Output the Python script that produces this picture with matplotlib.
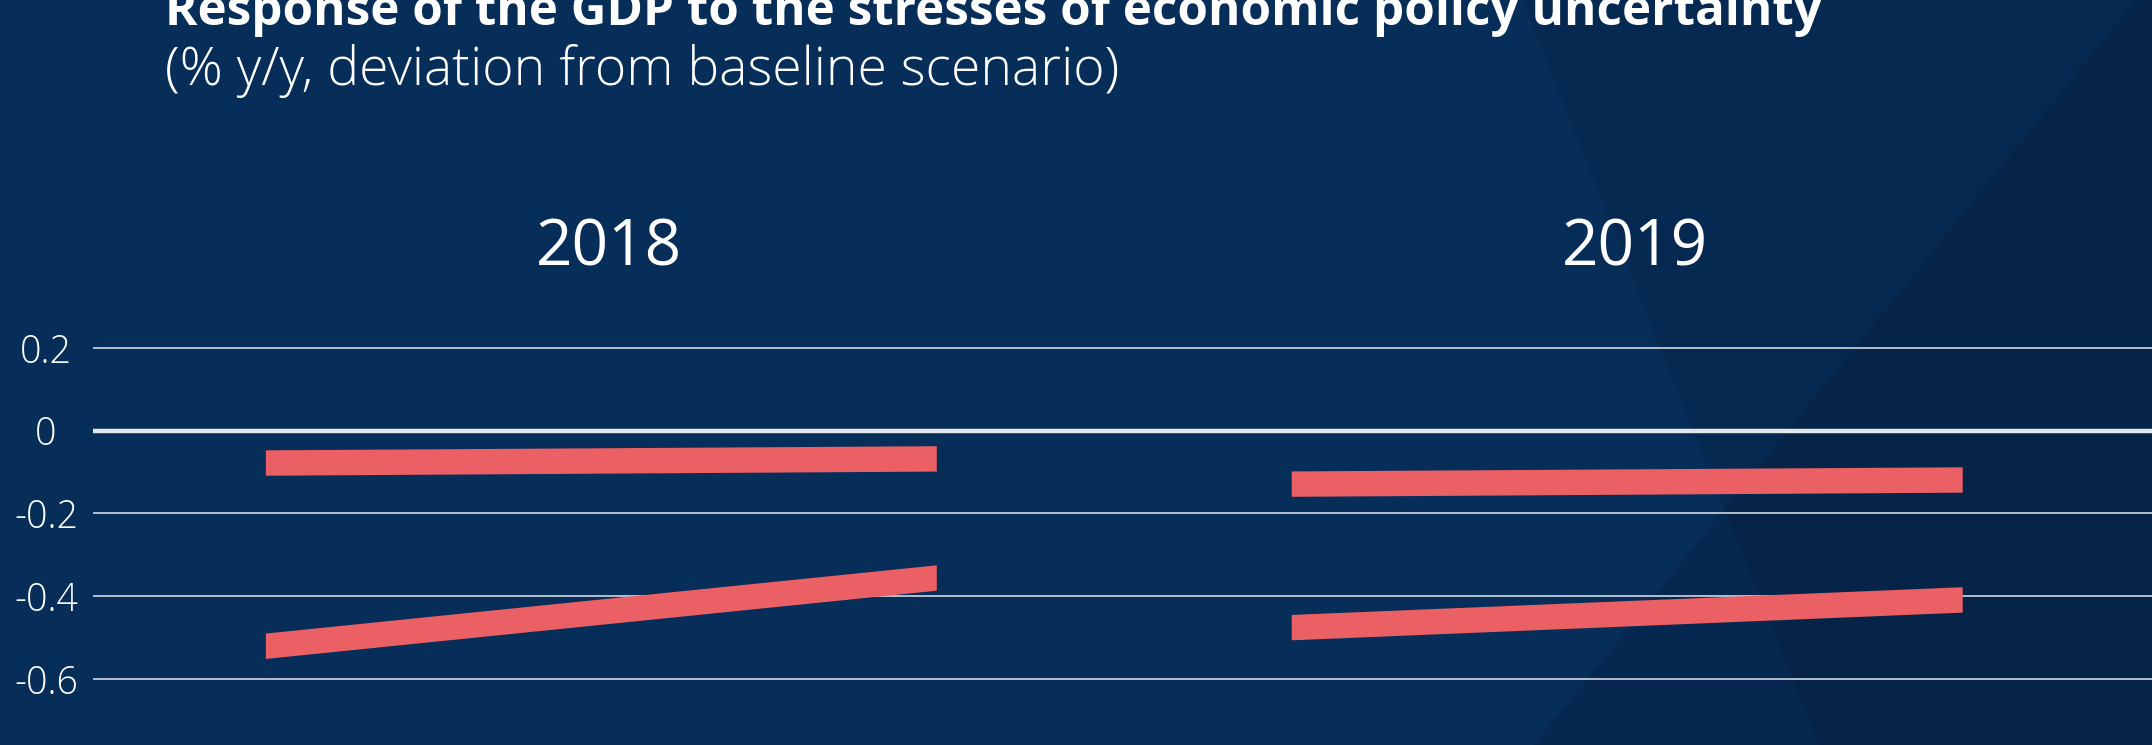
import numpy as np
import matplotlib.pyplot as plt
from matplotlib.patches import Polygon

plt.rcParams['font.family'] = ['Open Sans', 'DejaVu Sans']

# data
years = ['2018', '2019']
upper_start = [-0.077, -0.128]
upper_end = [-0.067, -0.118]
lower_start = [-0.520, -0.475]
lower_end = [-0.355, -0.408]
y_ticks = [0.2, 0, -0.2, -0.4, -0.6]
y_tick_labels = ['0.2', '0', '-0.2', '-0.4', '-0.6']

title = 'Response of the GDP to the stresses of economic policy uncertainty'
subtitle = '(% y/y, deviation from baseline scenario)'

bg = '#072D59'
red = '#EA6064'
W, H = 2152, 745

fig = plt.figure(figsize=(W / 100, H / 100), dpi=100)
fig.patch.set_facecolor(bg)

# decorative background triangles
bga = fig.add_axes([0, 0, 1, 1], zorder=0)
bga.set_xlim(0, W)
bga.set_ylim(H, 0)
bga.axis('off')
bga.add_patch(Polygon([(1522, 0), (W, 0), (W, H), (1819, H)],
                      closed=True, facecolor='#000814', alpha=0.10, lw=0))
bga.add_patch(Polygon([(2136, 0), (W, 0), (W, H), (1534, H)],
                      closed=True, facecolor='#000814', alpha=0.14, lw=0))

ax = fig.add_axes([93 / W, 0, 1 - 93 / W, 445 / H], zorder=1)
ax.set_facecolor('none')
ax.set_xlim(-0.495, 1.512)
ax.set_ylim(-0.760, 0.316)
for s in ax.spines.values():
    s.set_visible(False)

for t in y_ticks:
    if t == 0:
        ax.axhline(t, color='#e4e6ea', lw=3.2, zorder=2)
    else:
        ax.axhline(t, color='#c3cad4', lw=1.3, zorder=2)

half = 0.327
band = 0.0307
for i, yr in enumerate(years):
    xs = [i - half, i + half]
    for y0, y1 in [(upper_start[i], upper_end[i]), (lower_start[i], lower_end[i])]:
        ys = np.array([y0, y1])
        ax.fill_between(xs, ys - band, ys + band, color=red, lw=0, zorder=3)
    ax.text(i + 0.008, 0.4005, yr, ha='center', va='baseline', color='white',
            fontsize=46, fontweight='medium', clip_on=False)

ax.set_xticks([])
ax.set_yticks(y_ticks)
ax.set_yticklabels(y_tick_labels)
ax.tick_params(axis='y', length=0, pad=33.8, labelsize=27, labelcolor='white')
for lab in ax.get_yticklabels():
    lab.set_horizontalalignment('center')
    lab.set_fontweight('light')

fig.text(165 / W, 1 - 25 / H, title, ha='left', va='baseline', color='white',
         fontsize=35.6, fontweight='bold')
fig.text(165 / W, 1 - 85 / H, subtitle, ha='left', va='baseline', color='white',
         fontsize=38.5, fontweight='light')

fig.savefig('out.png', dpi=100, facecolor=bg)
